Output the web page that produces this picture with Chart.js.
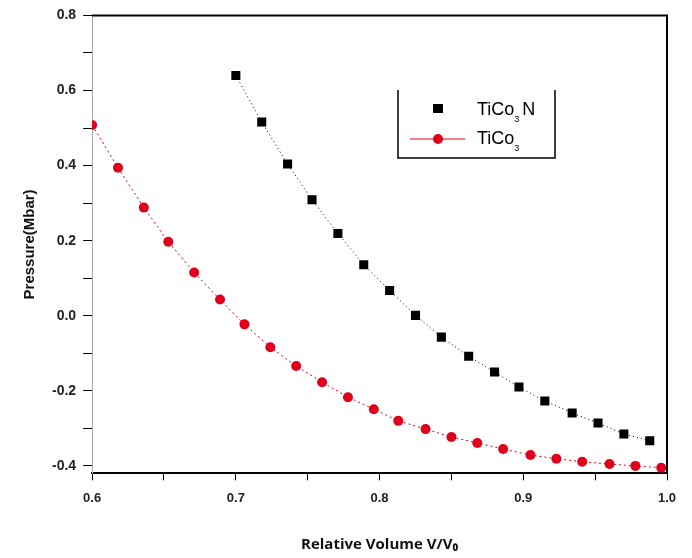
<!DOCTYPE html>
<html>
<head>
<meta charset="utf-8">
<script src="https://cdn.jsdelivr.net/npm/chart.js@4.4.0/dist/chart.umd.min.js"></script>
<style>
  html, body { margin: 0; padding: 0; background: #fff; }
  #wrap { width: 692px; height: 558px; position: relative; }
</style>
</head>
<body>
<div id="wrap"><canvas id="chart"></canvas></div>
<script>
// TiCo3N (black squares)
const volN = [0.700, 0.718, 0.736, 0.753, 0.771, 0.789, 0.807, 0.825, 0.843, 0.862, 0.880, 0.897, 0.915, 0.934, 0.952, 0.970, 0.988];
const presN = [0.640, 0.516, 0.404, 0.309, 0.219, 0.136, 0.067, 0.001, -0.057, -0.108, -0.150, -0.190, -0.227, -0.259, -0.286, -0.315, -0.333];

// TiCo3 (red circles)
const volS = [0.600, 0.618, 0.636, 0.653, 0.671, 0.689, 0.706, 0.724, 0.742, 0.760, 0.778, 0.796, 0.813, 0.832, 0.850, 0.868, 0.886, 0.905, 0.923, 0.941, 0.960, 0.978, 0.996];
const presS = [0.508, 0.394, 0.288, 0.197, 0.115, 0.043, -0.023, -0.084, -0.134, -0.177, -0.217, -0.249, -0.280, -0.302, -0.323, -0.339, -0.355, -0.371, -0.381, -0.389, -0.395, -0.400, -0.405];

const xTicks = [0.6, 0.65, 0.7, 0.75, 0.8, 0.85, 0.9, 0.95, 1.0];
const xLabels = [0.6, 0.7, 0.8, 0.9, 1.0];
const yTicks = [-0.4, -0.3, -0.2, -0.1, 0.0, 0.1, 0.2, 0.3, 0.4, 0.5, 0.6, 0.7, 0.8];
const yLabels = [-0.4, -0.2, 0.0, 0.2, 0.4, 0.6, 0.8];

const RED = '#e0001b';
const FONT = '"Liberation Sans", Arial, sans-serif';
const isLabel = (list, v) => list.some(l => Math.abs(l - v) < 1e-6);

const toPoints = (xs, ys) => xs.map((x, i) => ({ x, y: ys[i] }));

// frame on top/right + custom legend box
const framePlugin = {
  id: 'frame',
  afterDraw(chart) {
    const { ctx, chartArea: a } = chart;
    ctx.save();
    ctx.strokeStyle = '#000';
    ctx.lineWidth = 2;
    ctx.beginPath();
    ctx.moveTo(a.left, a.top);
    ctx.lineTo(a.right, a.top);
    ctx.lineTo(a.right, a.bottom);
    ctx.stroke();

    // legend box, open at the top like the original
    ctx.lineWidth = 1.5;
    ctx.beginPath();
    ctx.moveTo(398, 90);
    ctx.lineTo(398, 158);
    ctx.lineTo(555, 158);
    ctx.lineTo(555, 90);
    ctx.stroke();

    ctx.fillStyle = '#000';
    ctx.fillRect(433, 104, 10, 9);

    ctx.strokeStyle = RED;
    ctx.lineWidth = 1;
    ctx.beginPath();
    ctx.moveTo(410, 139);
    ctx.lineTo(465, 139);
    ctx.stroke();
    ctx.fillStyle = RED;
    ctx.beginPath();
    ctx.arc(438, 139, 5, 0, Math.PI * 2);
    ctx.fill();

    const drawFormula = (x, y, parts) => {
      ctx.fillStyle = '#000';
      ctx.textBaseline = 'alphabetic';
      parts.forEach(p => {
        ctx.font = p.sub ? '9px ' + FONT : '18px ' + FONT;
        ctx.fillText(p.t, x, p.sub ? y + 7 : y);
        x += ctx.measureText(p.t).width + (p.sub ? 3 : 0);
      });
    };
    drawFormula(477, 115, [{ t: 'TiCo' }, { t: '3', sub: true }, { t: 'N' }]);
    drawFormula(477, 144, [{ t: 'TiCo' }, { t: '3', sub: true }]);
    ctx.restore();
  }
};

new Chart(document.getElementById('chart'), {
  type: 'scatter',
  data: {
    datasets: [
      {
        label: 'TiCo3N',
        data: toPoints(volN, presN),
        showLine: true,
        borderColor: '#000',
        borderWidth: 1,
        borderDash: [1, 3],
        backgroundColor: '#000',
        pointStyle: 'rect',
        pointRadius: 6.4,
        pointBorderWidth: 0
      },
      {
        label: 'TiCo3',
        data: toPoints(volS, presS),
        showLine: true,
        borderColor: RED,
        borderWidth: 1,
        borderDash: [2, 3],
        backgroundColor: RED,
        pointStyle: 'circle',
        pointRadius: 5,
        pointBorderWidth: 0
      }
    ]
  },
  options: {
    responsive: true,
    maintainAspectRatio: false,
    animation: false,
    layout: { padding: { top: 15, right: 25, left: 21, bottom: 4 } },
    plugins: { legend: { display: false }, tooltip: { enabled: false } },
    scales: {
      x: {
        type: 'linear',
        min: 0.6,
        max: 1.0,
        afterBuildTicks: axis => { axis.ticks = xTicks.map(v => ({ value: v })); },
        grid: { drawOnChartArea: false, tickLength: 7, tickColor: '#000', tickWidth: 1 },
        border: { display: true, color: '#000', width: 2 },
        ticks: {
          color: '#222',
          font: { family: FONT, size: 13, weight: 'bold' },
          padding: 10,
          autoSkip: false,
          maxRotation: 0,
          callback: v => isLabel(xLabels, v) ? v.toFixed(1) : ''
        },
        title: {
          display: true,
          text: 'Relative Volume V/V\u2080',
          color: '#111',
          font: { family: '"Open Sans", "Liberation Sans", sans-serif', size: 15, weight: 'bold' },
          padding: { top: 20, bottom: 0 }
        }
      },
      y: {
        type: 'linear',
        min: -0.42,
        max: 0.8,
        afterBuildTicks: axis => { axis.ticks = yTicks.map(v => ({ value: v })); },
        grid: { drawOnChartArea: false, tickLength: 9, tickColor: '#000', tickWidth: 1 },
        border: { display: true, color: '#aaa', width: 1 },
        ticks: {
          color: '#222',
          font: { family: FONT, size: 14, weight: 'bold' },
          padding: 7,
          autoSkip: false,
          callback: v => isLabel(yLabels, v) ? v.toFixed(1) : ''
        },
        title: {
          display: true,
          text: 'Pressure(Mbar)',
          color: '#111',
          font: { family: FONT, size: 15, weight: 'bold' },
          padding: { top: 0, bottom: 6 }
        }
      }
    }
  },
  plugins: [framePlugin]
});
</script>
</body>
</html>
